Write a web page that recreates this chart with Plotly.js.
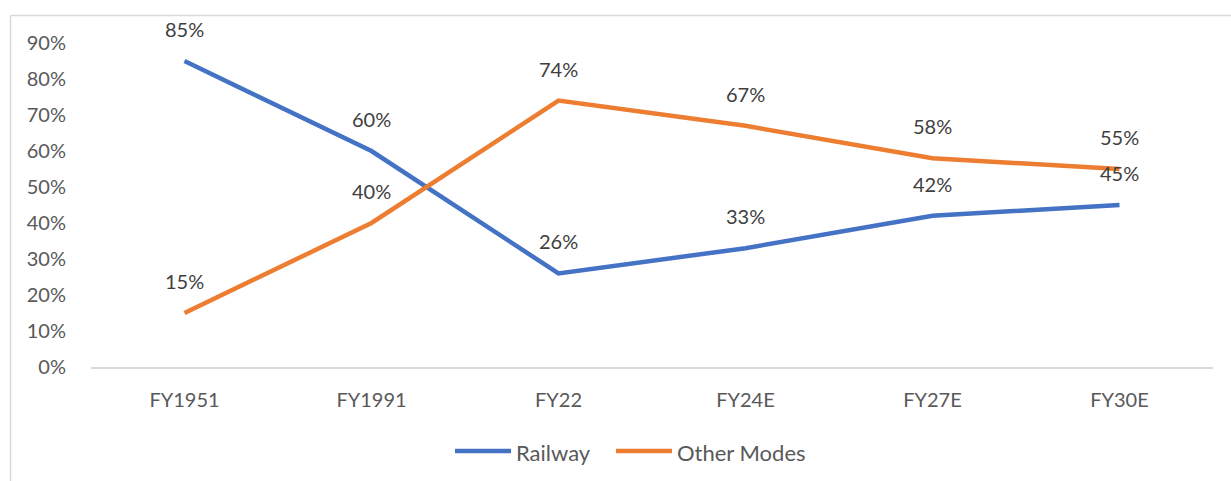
<!DOCTYPE html>
<html>
<head>
<meta charset="utf-8">
<script src="https://cdn.plot.ly/plotly-3.0.1.min.js"></script>
<style>html,body{margin:0;padding:0;background:#fff;}#chart{width:1231px;height:481px;}</style>
</head>
<body>
<div id="chart"></div>
<script>
const categories = ["FY1951", "FY1991", "FY22", "FY24E", "FY27E", "FY30E"];
const railway = [0.85, 0.60, 0.26, 0.33, 0.42, 0.45];
const otherModes = [0.15, 0.40, 0.74, 0.67, 0.58, 0.55];
const seriesNames = ["Railway", "Other Modes"];
const yTickVals = [0, 0.1, 0.2, 0.3, 0.4, 0.5, 0.6, 0.7, 0.8, 0.9];
const yTickText = ["0%", "10%", "20%", "30%", "40%", "50%", "60%", "70%", "80%", "90%"];

const FONT = "Lato, 'Open Sans', sans-serif";
const colors = ["#4472C4", "#ED7D31"];

const traces = [
  {x: categories, y: railway, name: seriesNames[0], type: "scatter", mode: "lines",
   line: {color: colors[0], width: 4.5}},
  {x: categories, y: otherModes, name: seriesNames[1], type: "scatter", mode: "lines",
   line: {color: colors[1], width: 4.5}}
];

const W = 1122, H = 324;
const px = function (x) { return (x - 91) / W; };
const py = function (y) { return (367 - y) / H; };

const annotations = [];
[railway, otherModes].forEach(function (series) {
  series.forEach(function (v, i) {
    annotations.push({x: categories[i], y: v, xref: "x", yref: "y",
      text: Math.round(v * 100) + "%", showarrow: false, yshift: 32,
      font: {family: FONT, size: 20, color: "#404040"}});
  });
});

// custom legend (line sample + label)
const legendItems = [{x0: 455, x1: 511, tx: 514}, {x0: 616, x1: 672, tx: 675}];
const shapes = [
  {type: "line", xref: "paper", yref: "paper", x0: px(10.5), x1: px(10.5),
   y0: py(15.5), y1: py(490), line: {color: "#d9d9d9", width: 1.5}},
  {type: "line", xref: "paper", yref: "paper", x0: px(10.5), x1: px(1240),
   y0: py(15.5), y1: py(15.5), line: {color: "#d9d9d9", width: 1.5}}
];
legendItems.forEach(function (it, k) {
  shapes.push({type: "line", xref: "paper", yref: "paper", x0: px(it.x0), x1: px(it.x1),
    y0: py(451), y1: py(451), line: {color: colors[k], width: 4.5}});
  annotations.push({xref: "paper", yref: "paper", x: px(it.tx), y: py(452), xanchor: "left",
    yanchor: "middle", text: seriesNames[k], showarrow: false,
    font: {family: FONT, size: 22, color: "#595959"}});
});

const layout = {
  width: 1231, height: 481,
  margin: {l: 91, r: 18, t: 43, b: 114},
  paper_bgcolor: "#ffffff", plot_bgcolor: "#ffffff",
  font: {family: FONT, size: 20, color: "#595959"},
  showlegend: false,
  xaxis: {type: "category", showgrid: false, zeroline: false, showline: true,
    linecolor: "#d9d9d9", linewidth: 1.5, ticks: "outside", ticklen: 14, tickcolor: "rgba(0,0,0,0)",
    tickfont: {family: FONT, size: 20, color: "#595959"}, range: [-0.5, 5.5]},
  yaxis: {range: [0, 0.9], tickvals: yTickVals, ticktext: yTickText, showgrid: false,
    zeroline: false, showline: false, ticks: "outside", ticklen: 20, tickcolor: "rgba(0,0,0,0)",
    tickfont: {family: FONT, size: 20, color: "#595959"}},
  annotations: annotations,
  shapes: shapes
};

Plotly.newPlot("chart", traces, layout, {displayModeBar: false, responsive: false});
</script>
</body>
</html>
